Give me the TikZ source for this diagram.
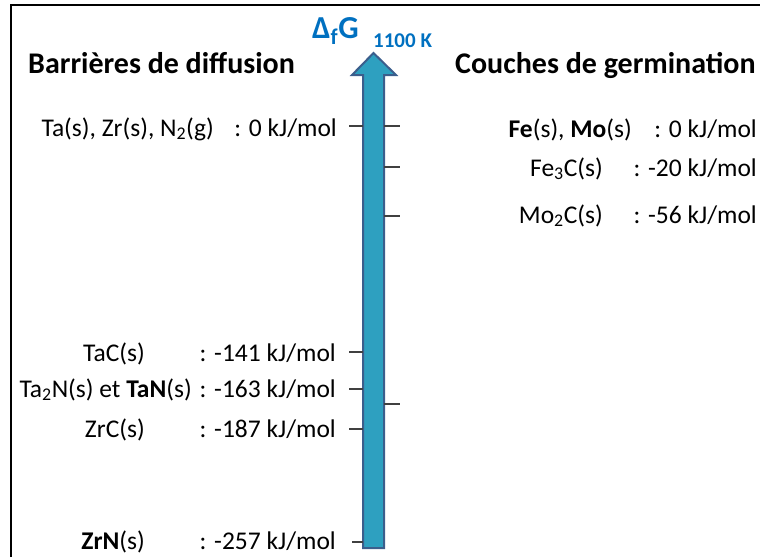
\documentclass[tikz,border=0pt]{standalone}
\usepackage{fontspec}
\setmainfont{Carlito}
\definecolor{arrowfill}{HTML}{2EA0C0}
\definecolor{arrowline}{HTML}{3B5E8C}
\definecolor{tickgray}{HTML}{404040}
\definecolor{titleblue}{HTML}{0070C0}
\tikzset{
  lbl/.style={inner sep=0pt, font=\fontsize{25.5}{28}\selectfont},
  ttl/.style={inner sep=0pt, font=\fontsize{30}{34}\selectfont\bfseries},
  tick/.style={draw=tickgray, line width=2pt},
  frame/.style={draw=black, line width=2pt}
}
\begin{document}
\begin{tikzpicture}[x=1pt,y=-1pt]
\useasboundingbox (0,0) rectangle (760,557);
% frame (top and left only)
\draw[frame] (11,557) -- (11,5) -- (760,5);
% arrow
\draw[fill=arrowfill, draw=arrowline, line width=2pt, line join=miter]
  (363,548) -- (363,75) -- (352,75) -- (373.5,53) -- (396,75) -- (384,75) -- (384,548) -- cycle;
% ticks left
\coordinate (lt0a) at (349,126); \coordinate (lt0b) at (363,126);
\coordinate (lt1a) at (349,352); \coordinate (lt1b) at (363,352);
\coordinate (lt2a) at (349,389); \coordinate (lt2b) at (363,389);
\coordinate (lt3a) at (349,429); \coordinate (lt3b) at (363,429);
\coordinate (lt4a) at (352,542); \coordinate (lt4b) at (363,542);
\draw[tick] (lt0a) -- (lt0b);
\draw[tick] (lt1a) -- (lt1b);
\draw[tick] (lt2a) -- (lt2b);
\draw[tick] (lt3a) -- (lt3b);
\draw[tick] (lt4a) -- (lt4b);
% ticks right
\coordinate (rt0a) at (384,126); \coordinate (rt0b) at (400,126);
\coordinate (rt1a) at (384,167); \coordinate (rt1b) at (400,167);
\coordinate (rt2a) at (384,216); \coordinate (rt2b) at (400,216);
\coordinate (rt3a) at (384,404); \coordinate (rt3b) at (400,404);
\draw[tick] (rt0a) -- (rt0b);
\draw[tick] (rt1a) -- (rt1b);
\draw[tick] (rt2a) -- (rt2b);
\draw[tick] (rt3a) -- (rt3b);
% titles
\node[ttl, anchor=base west] (tleft) at (28,73) {Barrières de diffusion};
\node[ttl, anchor=base west] (tright) at (455,73) {Couches de germination};
\node[ttl, anchor=base west, text=titleblue, font=\fontsize{32}{34}\selectfont\bfseries] (dg) at (312,38) {Δ\textsubscript{f}G};
\node[inner sep=0pt, anchor=base west, text=titleblue, font=\fontsize{21}{23}\selectfont\bfseries] (temp) at (373,47) {1100 K};
% left labels
\node[lbl, anchor=base east] (n0) at (214,136) {Ta(s), Zr(s), N\textsubscript{2}(g)};
\node[lbl, anchor=base east] (v0) at (337,136) {: 0 kJ/mol};
\node[lbl, anchor=base east] (n1) at (145,361) {TaC(s)};
\node[lbl, anchor=base east] (v1) at (336,361) {: -141 kJ/mol};
\node[lbl, anchor=base east] (n2) at (192,397) {Ta\textsubscript{2}N(s) et \textbf{TaN}(s)};
\node[lbl, anchor=base east] (v2) at (336,397) {: -163 kJ/mol};
\node[lbl, anchor=base east] (n3) at (145,437) {ZrC(s)};
\node[lbl, anchor=base east] (v3) at (336,437) {: -187 kJ/mol};
\node[lbl, anchor=base east] (n4) at (145,549) {\textbf{ZrN}(s)};
\node[lbl, anchor=base east] (v4) at (336,549) {: -257 kJ/mol};
% right labels
\node[lbl, anchor=base east] (m0) at (632,137) {\textbf{Fe}(s), \textbf{Mo}(s)};
\node[lbl, anchor=base east] (w0) at (757,137) {: 0 kJ/mol};
\node[lbl, anchor=base east] (m1) at (603,176) {Fe\textsubscript{3}C(s)};
\node[lbl, anchor=base east] (w1) at (757,176) {: -20 kJ/mol};
\node[lbl, anchor=base east] (m2) at (603,223) {Mo\textsubscript{2}C(s)};
\node[lbl, anchor=base east] (w2) at (757,223) {: -56 kJ/mol};
\end{tikzpicture}
\end{document}
